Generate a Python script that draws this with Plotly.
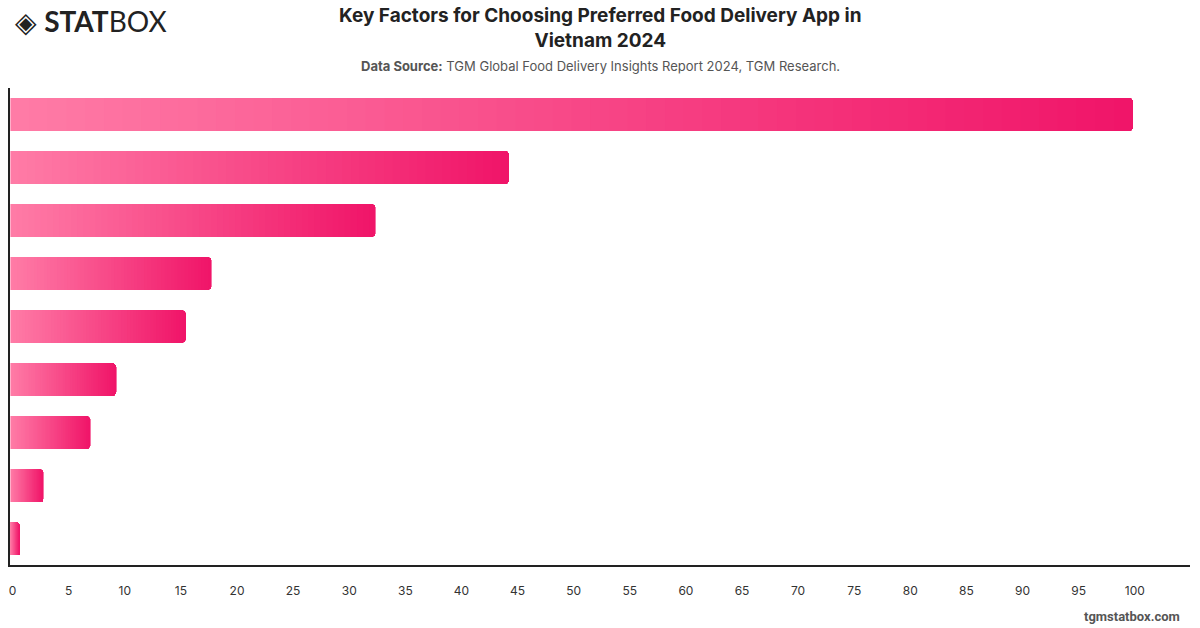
import plotly.graph_objects as go

categories = [
    "Fast delivery time",
    "Affordable prices",
    "Promotions and discounts",
    "Wide restaurant selection",
    "Easy-to-use app",
    "Reliable service",
    "Payment options",
    "Loyalty rewards",
    "Other",
]
values = [100, 44.4, 32.5, 17.9, 15.6, 9.4, 7.1, 2.9, 0.8]
x_ticks = list(range(0, 101, 5))

N_SEG = 60
c0 = (255, 124, 167)
c1 = (240, 20, 104)

fig = go.Figure()
for k in range(N_SEG):
    t = (k + 0.5) / N_SEG
    col = "rgb(%d,%d,%d)" % tuple(round(a + (b - a) * t) for a, b in zip(c0, c1))
    fig.add_trace(go.Bar(
        y=categories,
        x=[v / N_SEG for v in values],
        orientation="h",
        marker=dict(color=col, line=dict(width=0.6, color=col)),
        hoverinfo="skip",
        showlegend=False,
    ))

fig.update_layout(
    width=1200, height=628,
    margin=dict(l=10, r=10, t=88, b=63),
    paper_bgcolor="white", plot_bgcolor="white",
    barmode="stack", bargap=0.38, barcornerradius=4,
    font=dict(family="Inter, Roboto, sans-serif", color="#333"),
    xaxis=dict(
        range=[-0.05, 105.1], tickvals=x_ticks, ticktext=[str(v) for v in x_ticks],
        showgrid=False, zeroline=False, showline=True, linecolor="#222", linewidth=1.5,
        ticks="", ticklabelstandoff=14, ticklabelshift=2,
        tickfont=dict(size=12, color="#333"),
    ),
    yaxis=dict(
        categoryorder="array", categoryarray=categories[::-1],
        showticklabels=False, showgrid=False, zeroline=False,
        showline=True, linecolor="#222", linewidth=1.5, ticks="",
    ),
)

fig.add_annotation(
    text="<b>Key Factors for Choosing Preferred Food Delivery App in<br>Vietnam 2024</b>",
    xref="paper", yref="paper", x=0.5, y=1.0, xanchor="center", yanchor="bottom",
    yshift=34, showarrow=False,
    font=dict(size=19, color="#222", family="Inter, Roboto, sans-serif"),
)
fig.add_annotation(
    text="<b>Data Source:</b> TGM Global Food Delivery Insights Report 2024, TGM Research.",
    xref="paper", yref="paper", x=0.5, y=1.0, xanchor="center", yanchor="bottom",
    yshift=12, showarrow=False, font=dict(size=13, color="#555"),
)
fig.add_annotation(
    text="◈ <b>STAT</b>BOX", xref="paper", yref="paper", x=0, y=1, xanchor="left", yanchor="bottom",
    xshift=3, yshift=48, showarrow=False,
    font=dict(size=28, color="#222", family="Lato, Roboto, sans-serif"),
)
fig.add_annotation(
    text="<b>tgmstatbox.com</b>", xref="paper", yref="paper", x=1, y=0, xanchor="right", yanchor="top",
    xshift=-8, yshift=-42, showarrow=False,
    font=dict(size=13, color="#555", family="Roboto, sans-serif"),
)

fig.write_html("out.html")
